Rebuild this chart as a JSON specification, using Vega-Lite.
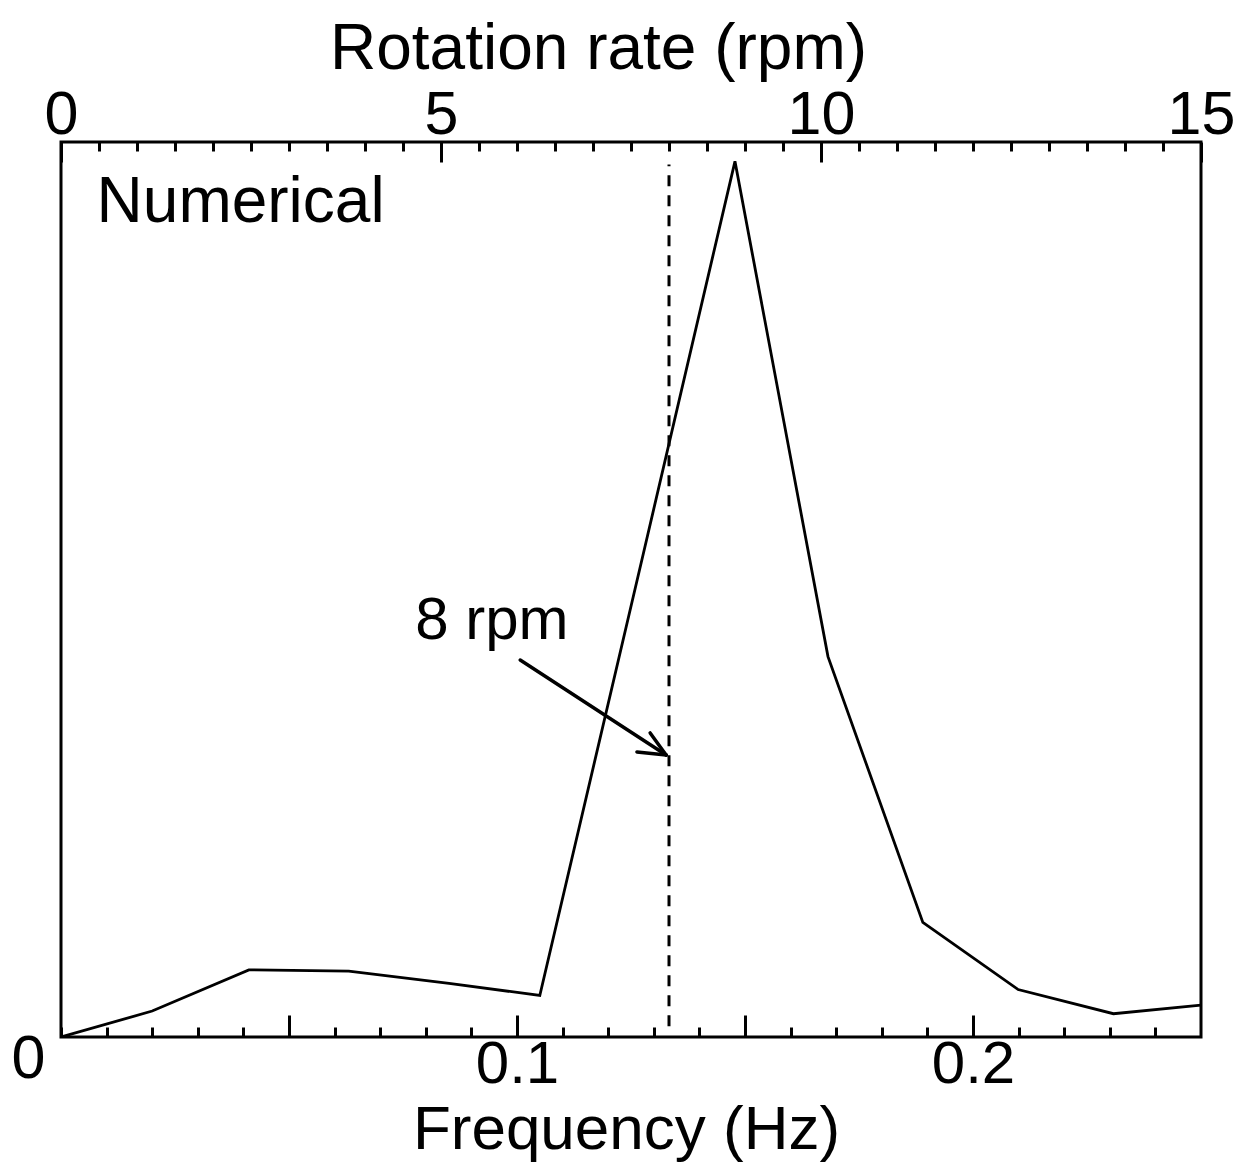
{
  "$schema": "https://vega.github.io/schema/vega-lite/v6.json",
  "width": 1140,
  "height": 895,
  "autosize": {"type": "none"},
  "padding": {"left": 61, "top": 142, "right": 49, "bottom": 136},
  "background": "white",
  "config": {
    "view": {"stroke": "black", "strokeWidth": 3},
    "axis": {"grid": false, "labelFont": "Liberation Sans", "labelColor": "black", "tickColor": "black", "domainColor": "black", "titleFont": "Liberation Sans", "titleFontWeight": "normal", "titleColor": "black"}
  },
  "datasets": {
    "spectrum": [
      {"freq": 0.0, "amp": 0.0},
      {"freq": 0.020, "amp": 0.029},
      {"freq": 0.0412, "amp": 0.075},
      {"freq": 0.0631, "amp": 0.0737},
      {"freq": 0.0851, "amp": 0.060},
      {"freq": 0.105, "amp": 0.0464},
      {"freq": 0.1277, "amp": 0.54},
      {"freq": 0.1478, "amp": 0.9784},
      {"freq": 0.1682, "amp": 0.425},
      {"freq": 0.189, "amp": 0.128},
      {"freq": 0.2099, "amp": 0.053},
      {"freq": 0.2308, "amp": 0.026},
      {"freq": 0.25, "amp": 0.0357}
    ],
    "marker": [{"rpm": 8, "y_start": 0.012, "y_end": 0.975}],
    "arrow": [
      {"part": "shaft", "f1": 0.1007, "a1": 0.4212, "f2": 0.1327, "a2": 0.3151},
      {"part": "barb", "f1": 0.1292, "a1": 0.3397, "f2": 0.1327, "a2": 0.3151},
      {"part": "barb", "f1": 0.1263, "a1": 0.3184, "f2": 0.1327, "a2": 0.3151}
    ],
    "labels": [{"text": "8 rpm", "rpm": 5.67, "amp": 0.4445}],
    "panel": [{"text": "Numerical", "freq": 0.0078, "amp": 0.9106}]
  },
  "resolve": {"scale": {"x": "independent"}, "axis": {"x": "independent"}},
  "layer": [
    {
      "data": {"name": "spectrum"},
      "mark": {"type": "line", "color": "black", "strokeWidth": 2.8, "clip": true},
      "encoding": {
        "x": {"field": "freq", "type": "quantitative",
          "scale": {"domain": [0, 0.25], "nice": false, "zero": false},
          "axis": {"orient": "bottom", "values": [0,0.01,0.02,0.03,0.04,0.05,0.06,0.07,0.08,0.09,0.1,0.11,0.12,0.13,0.14,0.15,0.16,0.17,0.18,0.19,0.2,0.21,0.22,0.23,0.24],
            "tickSize": -10, "tickWidth": 3, "domain": false, "title": null,
            "labelExpr": "datum.value == 0 ? '0' : ''",
            "labelFontSize": 61, "labelAlign": "right", "labelBaseline": "alphabetic", "labelOffset": -16, "labelPadding": 50,
            "labelFlush": false, "labelOverlap": false}},
        "y": {"field": "amp", "type": "quantitative",
          "scale": {"domain": [0, 1], "nice": false}, "axis": null}
      }
    },
    {
      "data": {"name": "arrow"},
      "mark": {"type": "rule", "color": "black", "strokeWidth": 3.5, "strokeCap": "round"},
      "encoding": {
        "x": {"field": "f1", "type": "quantitative",
          "scale": {"domain": [0, 0.25], "nice": false, "zero": false},
          "axis": {"orient": "bottom", "values": [0.05, 0.1, 0.15, 0.2], "tickSize": -22, "tickWidth": 3, "domain": false,
            "labelExpr": "datum.value == 0.1 || datum.value == 0.2 ? format(datum.value, '.1f') : ''",
            "labelFontSize": 60, "labelPadding": 67, "labelBaseline": "alphabetic", "labelFlush": false, "labelOverlap": false,
            "title": "Frequency (Hz)", "titleFontSize": 62, "titleX": 565, "titleY": 111, "titleBaseline": "alphabetic"}},
        "x2": {"field": "f2"},
        "y": {"field": "a1", "type": "quantitative", "scale": {"domain": [0, 1], "nice": false}, "axis": null},
        "y2": {"field": "a2"}
      }
    },
    {
      "data": {"name": "marker"},
      "mark": {"type": "rule", "color": "black", "strokeWidth": 3, "strokeDash": [11, 9]},
      "encoding": {
        "x": {"field": "rpm", "type": "quantitative",
          "scale": {"domain": [0, 15], "nice": false, "zero": false},
          "axis": {"orient": "top", "values": [0.5,1,1.5,2,2.5,3,3.5,4,4.5,5.5,6,6.5,7,7.5,8,8.5,9,9.5,10.5,11,11.5,12,12.5,13,13.5,14,14.5],
            "tickSize": -9, "tickWidth": 3, "labels": false, "domain": false, "title": null}},
        "y": {"field": "y_start", "type": "quantitative", "scale": {"domain": [0, 1], "nice": false}, "axis": null},
        "y2": {"field": "y_end"}
      }
    },
    {
      "data": {"name": "labels"},
      "mark": {"type": "text", "font": "Liberation Sans", "fontSize": 60, "align": "center", "baseline": "alphabetic", "color": "black"},
      "encoding": {
        "x": {"field": "rpm", "type": "quantitative",
          "scale": {"domain": [0, 15], "nice": false, "zero": false},
          "axis": {"orient": "top", "values": [0, 5, 10, 15], "tickSize": -20, "tickWidth": 3, "domain": false,
            "labelFontSize": 61, "labelBaseline": "alphabetic", "labelPadding": 29, "labelFlush": false, "labelOverlap": false,
            "title": "Rotation rate (rpm)", "titleFontSize": 64, "titleX": 537, "titleY": -74, "titleBaseline": "alphabetic"}},
        "y": {"field": "amp", "type": "quantitative", "scale": {"domain": [0, 1], "nice": false}, "axis": null},
        "text": {"field": "text"}
      }
    },
    {
      "data": {"name": "panel"},
      "mark": {"type": "text", "font": "Liberation Sans", "fontSize": 64, "align": "left", "baseline": "alphabetic", "color": "black"},
      "encoding": {
        "x": {"field": "freq", "type": "quantitative", "scale": {"domain": [0, 0.25], "nice": false, "zero": false}, "axis": null},
        "y": {"field": "amp", "type": "quantitative", "scale": {"domain": [0, 1], "nice": false}, "axis": null},
        "text": {"field": "text"}
      }
    }
  ]
}
